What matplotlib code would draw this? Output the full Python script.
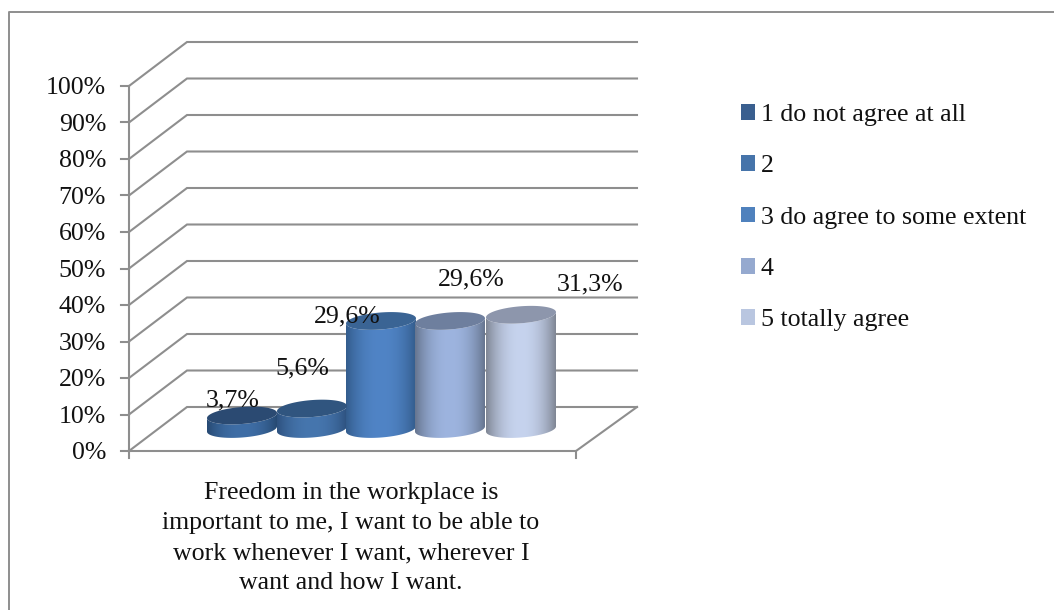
import numpy as np
import matplotlib
matplotlib.use('Agg')
import matplotlib.pyplot as plt
from matplotlib.colors import to_rgb
from matplotlib.patches import Patch, Polygon

# === DATA ===
categoria = ("Freedom in the workplace is\nimportant to me, I want to be able to\n"
             "work whenever I want, wherever I\nwant and how I want.")
respostas = ['1 do not agree at all', '2', '3 do agree to some extent', '4', '5 totally agree']
valores = [3.7, 5.6, 29.6, 29.6, 31.3]
rotulos = ['3,7%', '5,6%', '29,6%', '29,6%', '31,3%']
ticks_y = [0, 10, 20, 30, 40, 50, 60, 70, 80, 90, 100]

# === STYLE ===
cor_legenda = ['#3A5F8F', '#4674AA', '#4F81BD', '#95A9CF', '#B9C6E0']
cor_centro = ['#3F6EA6', '#4676AE', '#5084C6', '#9DB4DF', '#C6D3EE']
cor_borda = ['#274A73', '#2E527F', '#335C8C', '#66758F', '#7F8694']
cor_topo = ['#2B4A72', '#30557F', '#3A6494', '#6E7F9E', '#8D96AC']
CINZA = '#8E8E8E'
FONTE = 'Liberation Serif'
TAM = 18.6
L, A = 1054, 610

# 100% = 365 px, 0% at pixel row 451
PX = 3.65
Y0 = 451

fig = plt.figure(figsize=(L / 100, A / 100), dpi=100)
ax = fig.add_axes([0, 0, 1, 1])
ax.set_xlim(0, L)
ax.set_ylim((Y0 - A) / PX, Y0 / PX)
ax.axis('off')

# depth of the 3D box, in x pixels and y units
DX = 58
DY = 44 / PX
XE, XD = 129, 576

# outer frame (open on the right and bottom)
ax.plot([9, 9, L], [(Y0 - A) / PX, (Y0 - 12) / PX, (Y0 - 12) / PX], color=CINZA, lw=1.4, zorder=1)

# walls
for v in ticks_y:
    ax.plot([XE, XE + DX, XD + DX + 3], [v, v + DY, v + DY], color=CINZA, lw=1.5, zorder=1,
            solid_joinstyle='miter')
    ax.plot([XE - 8, XE], [v, v], color=CINZA, lw=1.5, zorder=1)
    ax.text(106, v - 0.6, f'{v}%', ha='right', va='center', fontsize=TAM, family=FONTE, color='#111111')
ax.plot([XE, XE], [0, 100], color=CINZA, lw=1.5, zorder=1)
ax.plot([XE, XD, XD + DX + 3], [0, 0, DY], color=CINZA, lw=1.5, zorder=1)
for x in [XE, XD]:
    ax.plot([x, x], [0, -7 / PX], color=CINZA, lw=1.5, zorder=1)

# === CYLINDERS ===
centros = [242, 312, 381, 450, 521]
RX = 35
RY = 8.5 / PX
SK = 2.6 / PX
BASE = 22 / PX


def elipse(cx, cy, t):
    return np.column_stack([cx + RX * np.cos(t), cy + RY * np.sin(t) + SK * np.cos(t)])


for i, v in enumerate(valores):
    cx = centros[i]
    topo = BASE + v
    baixo = elipse(cx, BASE, np.linspace(np.pi, 2 * np.pi, 80))
    cima = elipse(cx, topo, np.linspace(2 * np.pi, np.pi, 80))
    corpo = Polygon(np.vstack([baixo, cima]), closed=True, fc='none', ec='none', zorder=2)
    ax.add_patch(corpo)

    u = np.linspace(-1, 1, 140)
    mix = (1 - np.abs(u) ** 2.2)[None, :, None]
    grad = np.array(to_rgb(cor_borda[i]))[None, None, :] * (1 - mix) + \
        np.array(to_rgb(cor_centro[i]))[None, None, :] * mix
    im = ax.imshow(grad, extent=[cx - RX, cx + RX, BASE - 5, topo + 5], aspect='auto',
                   interpolation='bilinear', zorder=2)
    im.set_clip_path(corpo)
    ax.add_patch(Polygon(elipse(cx, topo, np.linspace(0, 2 * np.pi, 120)), closed=True,
                         fc=cor_topo[i], ec='none', zorder=2.1))

ax.set_xlim(0, L)
ax.set_ylim((Y0 - A) / PX, Y0 / PX)

# === LABELS ===
rot_x = [232.5, 302, 347, 471, 590]
rot_dy = [4.2, 11.0, 1.3, 11.35, 8.2]
for i, txt in enumerate(rotulos):
    ax.text(rot_x[i], BASE + valores[i] + rot_dy[i], txt, ha='center', va='center',
            fontsize=TAM, family=FONTE, color='#111111', zorder=5)

ax.text(351, (Y0 - 538) / PX, categoria, ha='center', va='center', fontsize=TAM, family=FONTE,
        color='#111111', linespacing=1.486, multialignment='center')

# === LEGEND ===
alcas = [Patch(fc=c, ec='none', label=r) for c, r in zip(cor_legenda, respostas)]
leg = ax.legend(handles=alcas, loc='upper left', bbox_to_anchor=(741 / L, 1 - 104 / A),
                frameon=False, prop={'family': FONTE, 'size': TAM}, handlelength=0.54,
                handleheight=0.54, handletextpad=0.22, labelspacing=1.135, labelcolor='#111111',
                borderpad=0, borderaxespad=0)

fig.savefig('out.png', dpi=100)
